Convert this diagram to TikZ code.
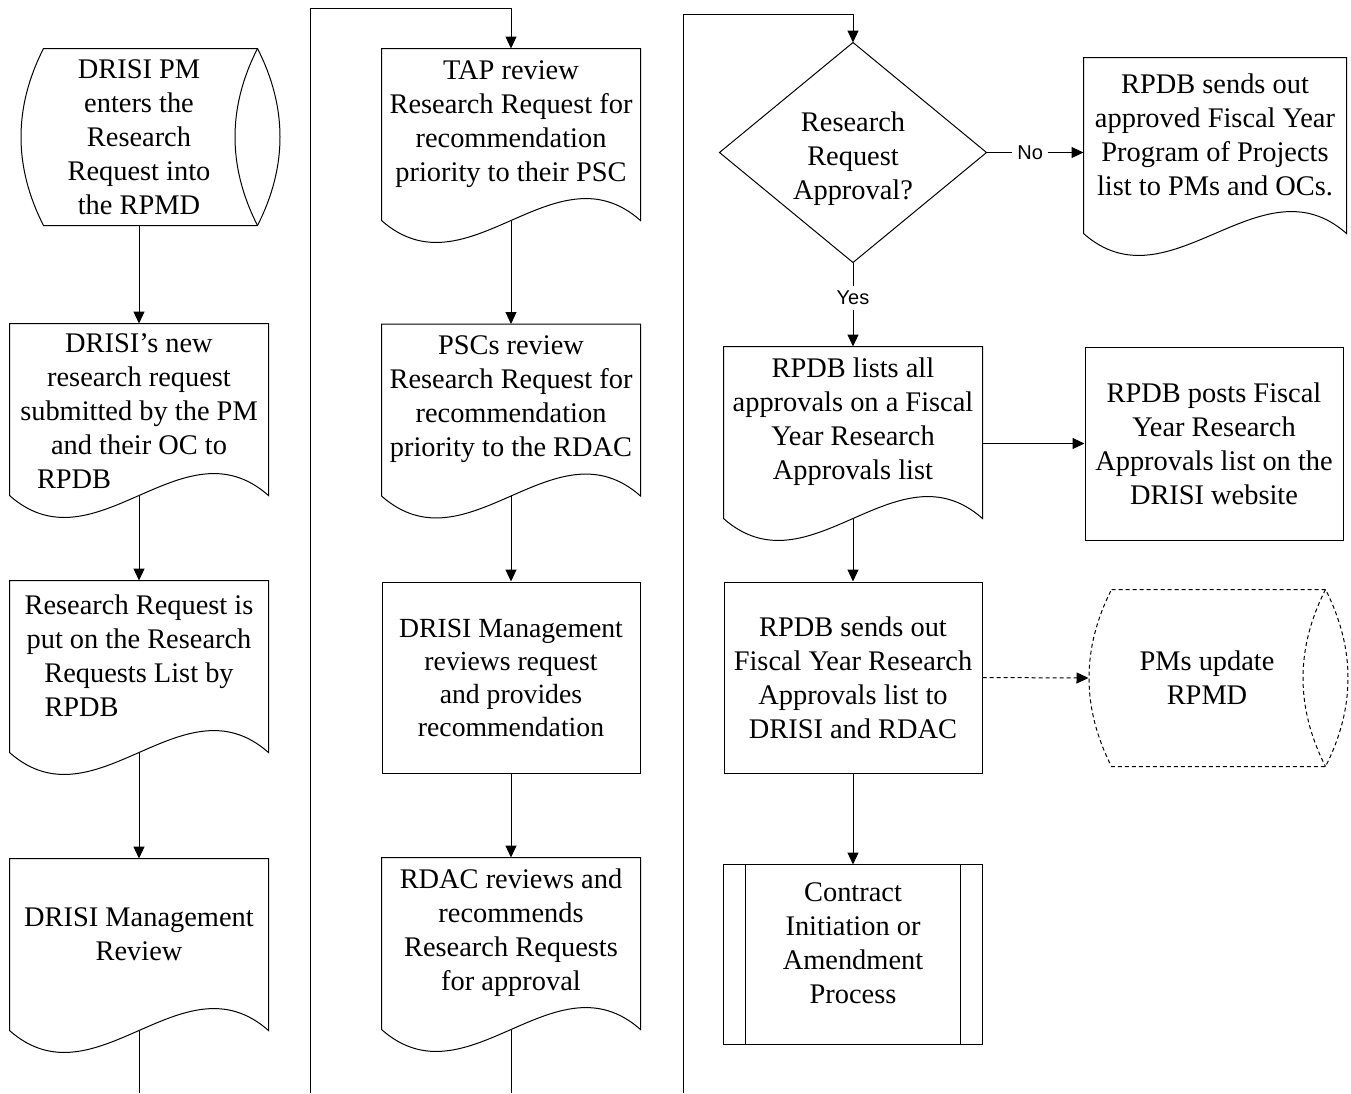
\documentclass[tikz,border=0pt]{standalone}
\usepackage{fontspec}
\setmainfont{Liberation Serif}
\newfontfamily\labelfont{Liberation Sans}
\usetikzlibrary{arrows.meta}
% document outline below a text node, #2 = how far the wavy edge sits below it
\newcommand{\docshape}[2]{%
  \draw (#1.north west) -- (#1.north east) -- ([yshift={-(#2)}]#1.south east)
    .. controls +(-86,-76) and +(86,76) .. ([yshift={-(#2)}]#1.south west) -- cycle;
  \coordinate (#1-out) at ([yshift={-(#2)}]#1.south);}
% stored data drum
\newcommand{\storeshape}[2][]{%
  \draw[#1] ([xshift=23pt]#2.north west) -- (#2.north east)
    .. controls +(30,59) and +(30,-59) .. (#2.south east)
    -- ([xshift=23pt]#2.south west)
    .. controls +(-30,-59) and +(-30,59) .. ([xshift=23pt]#2.north west) -- cycle;
  \draw[#1] (#2.north east) .. controls +(-30,59) and +(-30,-59) .. (#2.south east);}
% predefined process
\newcommand{\subshape}[2]{%
  \draw (#1.north west) rectangle ([yshift={-(#2)}]#1.south east);
  \draw ([xshift=22pt]#1.north west) -- ([xshift=22pt,yshift={-(#2)}]#1.south west);
  \draw ([xshift=-22pt]#1.north east) -- ([xshift=-22pt,yshift={-(#2)}]#1.south east);}

\begin{document}
\begin{tikzpicture}[x=1pt,y=-1pt,line width=1pt,>={Triangle[length=12pt,width=11pt]},
    base/.style={align=center,inner sep=0pt,font=\fontsize{28.4pt}{34pt}\selectfont},
    docnode/.style={base,minimum width=258pt,minimum height=150pt},
    procnode/.style={base,draw,minimum width=258pt,minimum height=191pt},
    storenode/.style={base,minimum width=236pt,minimum height=176pt},
    decnode/.style={base,minimum width=266pt,minimum height=219pt},
    subnode/.style={base,minimum width=258pt,minimum height=156pt},
    lbl/.style={fill=white,inner sep=5pt,font=\labelfont\fontsize{20pt}{23pt}\selectfont}]
  \useasboundingbox (0,0) rectangle (1351,1093);

  % first column
  \node[storenode] (enter) at (139,137) {DRISI PM\\enters the\\Research\\Request into\\the RPMD};
  \storeshape{enter}
  \node[docnode,minimum height=174pt] (newreq) at (139,411)
    {DRISI’s new\\research request\\submitted by the PM\\and their OC to\\\makebox[204pt][l]{RPDB}};
  \docshape{newreq}{-3pt}
  \node[docnode] (putlist) at (139,656)
    {Research Request is\\put on the Research\\Requests List by\\\makebox[189pt][l]{RPDB}};
  \docshape{putlist}{21pt}
  \node[docnode] (mgmtrev) at (139,934) {DRISI Management\\Review};
  \docshape{mgmtrev}{21pt}
  \coordinate (c1end) at (139,1093);

  % second column
  \node[docnode] (tap) at (511,124) {TAP review\\Research Request for\\recommendation\\priority to their PSC};
  \docshape{tap}{21pt}
  \node[docnode] (psc) at (511,399.5) {PSCs review\\Research Request for\\recommendation\\priority to the RDAC};
  \docshape{psc}{21pt}
  \node[procnode,font=\fontsize{27.7pt}{33pt}\selectfont] (mgmt) at (511,677.5)
    {DRISI Management\\reviews request\\and provides\\recommendation};
  \node[docnode] (rdac) at (511,933) {RDAC reviews and\\recommends\\Research Requests\\for approval};
  \docshape{rdac}{21pt}
  \coordinate (c2start) at (310,1093);
  \coordinate (c2top) at (310,8);
  \coordinate (c2end) at (511,1093);

  % third column
  \node[decnode] (approve) at (853,152.5) {\rule{0pt}{32pt}Research\\Request\\Approval?};
  \draw (approve.north) -- (approve.east) -- (approve.south) -- (approve.west) -- cycle;
  \node[docnode] (lists) at (853,422) {RPDB lists all\\approvals on a Fiscal\\Year Research\\Approvals list};
  \docshape{lists}{21pt}
  \node[procnode] (sendfy) at (853,677.5) {RPDB sends out\\Fiscal Year Research\\Approvals list to\\DRISI and RDAC};
  \node[subnode] (contract) at (853,943) {Contract\\Initiation or\\Amendment\\Process};
  \subshape{contract}{23pt}
  \coordinate (c3start) at (683,1093);
  \coordinate (c3top) at (683,14);

  % fourth column
  \node[docnode,minimum width=262pt,minimum height=154pt] (approved) at (1215,135)
    {RPDB sends out\\approved Fiscal Year\\Program of Projects\\list to PMs and OCs.};
  \docshape{approved}{21pt}
  \node[procnode,minimum height=193pt] (posts) at (1214,443.5)
    {RPDB posts Fiscal\\Year Research\\Approvals list on the\\DRISI website};
  \node[storenode] (pmupd) at (1207,678) {PMs update\\RPMD};
  \storeshape[dash pattern=on 4pt off 3pt]{pmupd}

  % connectors
  \draw[->] (enter.south) -- (newreq.north);
  \draw[->] (newreq-out) -- (putlist.north);
  \draw[->] (putlist-out) -- (mgmtrev.north);
  \draw (mgmtrev-out) -- (c1end);

  \draw[->] (c2start) -- (c2top) -| (tap.north);
  \draw[->] (tap-out) -- (psc.north);
  \draw[->] (psc-out) -- (mgmt.north);
  \draw[->] (mgmt.south) -- (rdac.north);
  \draw (rdac-out) -- (c2end);

  \draw[->] (c3start) -- (c3top) -| (approve.north);
  \draw[->] (approve.east) -- (approve.east -| approved.west) node[lbl,pos=0.45] {No};
  \draw[->] (approve.south) -- (lists.north) node[lbl,pos=0.42] {Yes};
  \draw[->] (posts.west -| lists.east) -- (posts.west);
  \draw[->] (lists-out) -- (sendfy.north);
  \draw[->,dash pattern=on 4pt off 3pt] (sendfy.east) -- (pmupd.west);
  \draw[->] (sendfy.south) -- (contract.north);
\end{tikzpicture}
\end{document}
